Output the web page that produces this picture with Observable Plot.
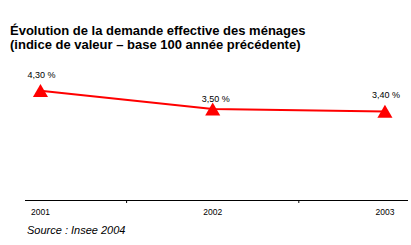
<!DOCTYPE html>
<html>
<head>
<meta charset="utf-8">
<script src="https://cdn.jsdelivr.net/npm/d3@7"></script>
<script src="https://cdn.jsdelivr.net/npm/@observablehq/plot@0.6"></script>
<style>
  html, body { margin: 0; padding: 0; background: #fff; }
  body { width: 411px; height: 245px; overflow: hidden; font-family: "Liberation Sans", Arial, sans-serif; }
  #title { box-sizing: border-box; height: 56px; padding: 23.5px 0 0 10px; font-weight: bold; font-size: 13px; line-height: 14px; color: #000; white-space: nowrap; }
  #chart svg { display: block; }
  #source { padding-left: 27px; font-style: italic; font-size: 11px; line-height: 13px; color: #000; }
</style>
</head>
<body>
<div id="title">Évolution de la demande effective des ménages<br>(indice de valeur – base 100 année précédente)</div>
<div id="chart"></div>
<div id="source">Source : Insee 2004</div>
<script>
const years = [2001, 2002, 2003];
const values = [4.3, 3.5, 3.4];
const valueLabels = ["4,30 %", "3,50 %", "3,40 %"];
const tickYears = ["2001", "2002", "2003"];
const separatorTicks = [2001.5, 2002.5];

const data = years.map((year, i) => ({year, value: values[i], label: valueLabels[i]}));

const chart = Plot.plot({
  width: 411,
  height: 168,
  marginLeft: 25,
  marginRight: 4,
  marginTop: 18,
  marginBottom: 24,
  style: {fontFamily: "'Liberation Sans', Arial, sans-serif", color: "#000", background: "#fff"},
  x: {type: "linear", domain: [2000.913, 2003.131]},
  y: {domain: [-0.46, 5], axis: null},
  marks: [
    Plot.frame({anchor: "bottom", stroke: "#000"}),
    Plot.axisX({ticks: separatorTicks, tickSize: 3, tickFormat: () => "", stroke: "#000", label: null}),
    Plot.axisX({ticks: years, tickSize: 0, tickPadding: 8, tickFormat: (d) => tickYears[years.indexOf(d)], fontSize: 8.5, label: null}),
    Plot.line(data, {x: "year", y: "value", stroke: "#ff0000", strokeWidth: 2}),
    Plot.dot(data, {x: "year", y: "value", symbol: "triangle", r: 5.6, fill: "#ff0000", stroke: "none", dy: 2}),
    Plot.text(data.filter((d, i) => i !== 1), {x: "year", y: "value", text: "label", fontSize: 9, dy: -16, dx: 1, fill: "#000"}),
    Plot.text(data.filter((d, i) => i === 1), {x: "year", y: "value", text: "label", fontSize: 9, dy: -10.5, dx: 3, fill: "#000"})
  ]
});
document.getElementById("chart").appendChild(chart);
</script>
</body>
</html>
